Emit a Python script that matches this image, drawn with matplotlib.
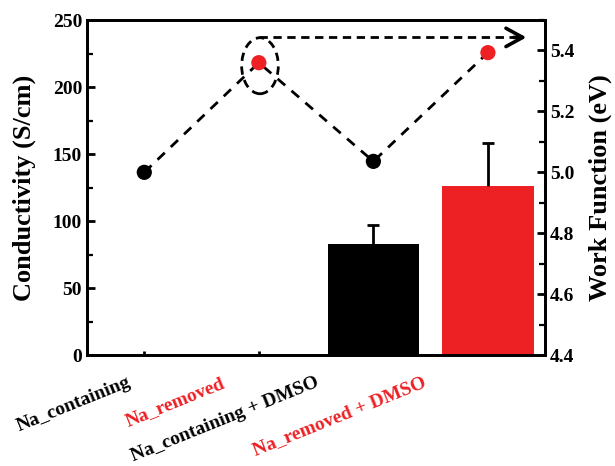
import matplotlib
matplotlib.use("Agg")
import matplotlib.pyplot as plt
from matplotlib.patches import Ellipse
import matplotlib.transforms as mtrans
from matplotlib.ticker import MultipleLocator

categories = ['Na_containing', 'Na_removed', 'Na_containing + DMSO', 'Na_removed + DMSO']
label_colors = ['black', '#ED2024', 'black', '#ED2024']
work_function = [5.00, 5.36, 5.036, 5.393]
wf_colors = ['black', '#ED2024', 'black', '#ED2024']
bar_idx = [2, 3]
conductivity = [83, 126]
conductivity_err = [14, 32]
bar_colors = ['black', '#ED2024']

plt.rcParams['font.family'] = ['Liberation Serif', 'DejaVu Serif']
plt.rcParams['font.weight'] = 'bold'

fig = plt.figure(figsize=(6.15, 4.66), dpi=100)
ax = fig.add_axes([0.1415, 0.238, 0.745, 0.719])
ax2 = ax.twinx()

x = list(range(len(categories)))

ax.bar(bar_idx, conductivity, width=0.8, color=bar_colors, zorder=2)
eb = ax.errorbar(bar_idx, conductivity, yerr=[[0, 0], conductivity_err], fmt='none',
                 ecolor='black', elinewidth=2, capsize=4, capthick=2, zorder=3)
# keep only the upper caps
caps = eb.lines[1]
if len(caps) == 2:
    caps[0].set_visible(False)

ax.set_xlim(-0.5, 3.5)
ax.set_ylim(0, 250)
ax.yaxis.set_major_locator(MultipleLocator(50))
ax.yaxis.set_minor_locator(MultipleLocator(25))
ax2.set_ylim(4.4, 5.5)
ax2.set_yticks([4.4, 4.6, 4.8, 5.0, 5.2, 5.4])
ax2.set_yticklabels(['4.4', '4.6', '4.8', '5.0', '5.2', '5.4'])
ax2.yaxis.set_minor_locator(MultipleLocator(0.1))

# dashed connecting line + markers
ax2.plot(x, work_function, color='black', lw=2, linestyle=(0, (3.6, 3.0)), zorder=3)
ax2.scatter(x, work_function, s=120, c=wf_colors, zorder=4, edgecolors='none')

# highlight ellipse and arrow
ell = Ellipse((1.01, 5.35), width=0.32, height=0.184, fill=False,
              edgecolor='black', lw=2, linestyle=(0, (3, 2)), zorder=5)
ax2.add_patch(ell)
arrow_y = 5.443
ax2.plot([1.0, 3.3], [arrow_y, arrow_y], color='black', lw=2,
         linestyle=(0, (3, 2)), zorder=5)
ax2.annotate('', xy=(3.36, arrow_y), xytext=(3.2, arrow_y),
             arrowprops=dict(arrowstyle='->,head_length=0.6,head_width=0.33',
                             color='black', lw=2.6, mutation_scale=20))

for a in (ax, ax2):
    for s in a.spines.values():
        s.set_linewidth(2)

ax.tick_params(axis='y', which='major', direction='in', length=6, width=2, labelsize=14)
ax.tick_params(axis='y', which='minor', direction='in', length=4, width=1.6)
ax2.tick_params(axis='y', which='major', direction='in', length=6, width=2, labelsize=14)
ax2.tick_params(axis='y', which='minor', direction='in', length=4, width=1.6)
ax.tick_params(axis='x', which='major', direction='in', length=3, width=2)
ax.set_xticks(x)
ax.set_xticklabels([])

for lab in ax.get_yticklabels() + ax2.get_yticklabels():
    lab.set_fontweight('bold')

ax.set_ylabel('Conductivity (S/cm)', fontsize=19, fontweight='bold', labelpad=12)
ax2.set_ylabel('Work Function (eV)', fontsize=19, fontweight='bold', labelpad=10)

# category labels
trans = mtrans.blended_transform_factory(ax.transData, ax.transAxes)
dx_pts = [-8.0, -23, -37.4, -42.5]
for i, (cat, col) in enumerate(zip(categories, label_colors)):
    ax.annotate(cat, xy=(x[i], 0), xycoords=trans,
                xytext=(dx_pts[i], -13.7), textcoords='offset points',
                ha='right', va='top', rotation=22, fontsize=14,
                fontweight='bold', color=col, annotation_clip=False)

fig.savefig('out.png', dpi=100)
